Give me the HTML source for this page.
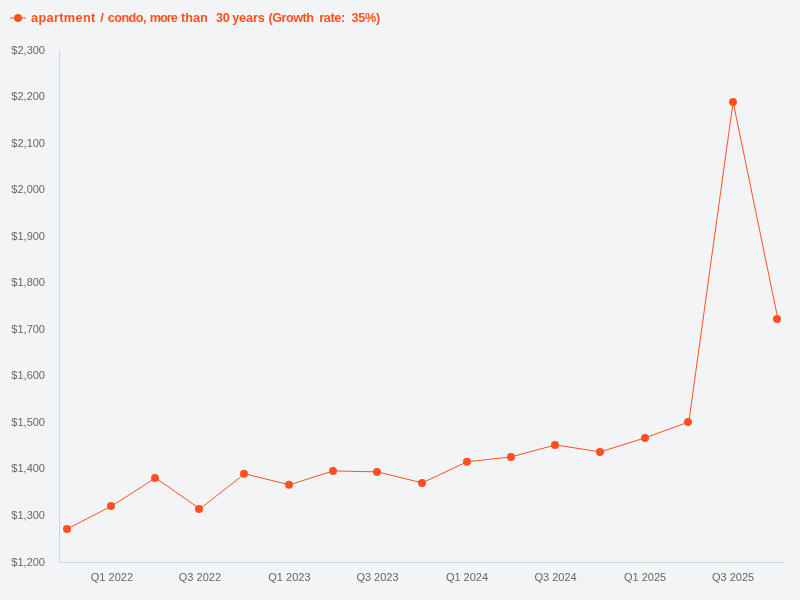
<!DOCTYPE html>
<html lang="en"><head><meta charset="utf-8"><title>Chart</title>
<style>
html,body{margin:0;padding:0;background:#f3f4f6;}
body{width:800px;height:600px;overflow:hidden;font-family:"Liberation Sans",sans-serif;}
svg{display:block}
.ax{font-family:"Liberation Sans",sans-serif;font-size:11px;fill:#666666}
.lg{font-family:"Liberation Sans",sans-serif;font-size:12.7px;font-weight:bold;fill:#fe5020}
</style></head><body>
<svg width="800" height="600" viewBox="0 0 800 600">
<rect x="0" y="0" width="800" height="600" fill="#f3f4f6"/>
<path d="M59.5 50V562" stroke="#ccd6eb" stroke-width="1" fill="none"/>
<path d="M60 562.5H785" stroke="#ccd6eb" stroke-width="1" fill="none"/>
<text class="ax" x="45" y="54.0" text-anchor="end">$2,300</text>
<text class="ax" x="45" y="100.0" text-anchor="end">$2,200</text>
<text class="ax" x="45" y="147.0" text-anchor="end">$2,100</text>
<text class="ax" x="45" y="193.0" text-anchor="end">$2,000</text>
<text class="ax" x="45" y="240.0" text-anchor="end">$1,900</text>
<text class="ax" x="45" y="286.0" text-anchor="end">$1,800</text>
<text class="ax" x="45" y="333.0" text-anchor="end">$1,700</text>
<text class="ax" x="45" y="379.0" text-anchor="end">$1,600</text>
<text class="ax" x="45" y="426.0" text-anchor="end">$1,500</text>
<text class="ax" x="45" y="472.0" text-anchor="end">$1,400</text>
<text class="ax" x="45" y="519.0" text-anchor="end">$1,300</text>
<text class="ax" x="45" y="566.0" text-anchor="end">$1,200</text>
<text class="ax" x="111.9" y="581" text-anchor="middle">Q1 2022</text>
<text class="ax" x="199.9" y="581" text-anchor="middle">Q3 2022</text>
<text class="ax" x="289.4" y="581" text-anchor="middle">Q1 2023</text>
<text class="ax" x="377.5" y="581" text-anchor="middle">Q3 2023</text>
<text class="ax" x="467.0" y="581" text-anchor="middle">Q1 2024</text>
<text class="ax" x="555.6" y="581" text-anchor="middle">Q3 2024</text>
<text class="ax" x="645.1" y="581" text-anchor="middle">Q1 2025</text>
<text class="ax" x="733.1" y="581" text-anchor="middle">Q3 2025</text>
<path d="M67.11 529.00 L111.87 505.90 L155.65 477.90 L199.92 508.90 L244.68 473.80 L289.44 484.80 L333.23 470.90 L377.50 471.90 L422.26 482.90 L467.02 461.80 L511.29 456.90 L555.56 444.90 L600.32 451.90 L645.08 437.90 L688.86 421.90 L733.13 101.90 L777.89 318.90" stroke="#fe5020" stroke-width="1" fill="none" stroke-linejoin="round" stroke-linecap="round"/>
<circle cx="67" cy="529.00" r="4" fill="#fe5020"/>
<circle cx="111" cy="505.90" r="4" fill="#fe5020"/>
<circle cx="155" cy="477.90" r="4" fill="#fe5020"/>
<circle cx="199" cy="508.90" r="4" fill="#fe5020"/>
<circle cx="244" cy="473.80" r="4" fill="#fe5020"/>
<circle cx="289" cy="484.80" r="4" fill="#fe5020"/>
<circle cx="333" cy="470.90" r="4" fill="#fe5020"/>
<circle cx="377" cy="471.90" r="4" fill="#fe5020"/>
<circle cx="422" cy="482.90" r="4" fill="#fe5020"/>
<circle cx="467" cy="461.80" r="4" fill="#fe5020"/>
<circle cx="511" cy="456.90" r="4" fill="#fe5020"/>
<circle cx="555" cy="444.90" r="4" fill="#fe5020"/>
<circle cx="600" cy="451.90" r="4" fill="#fe5020"/>
<circle cx="645" cy="437.90" r="4" fill="#fe5020"/>
<circle cx="688" cy="421.90" r="4" fill="#fe5020"/>
<circle cx="733" cy="101.90" r="4" fill="#fe5020"/>
<circle cx="777" cy="318.90" r="4" fill="#fe5020"/>
<path d="M10 18H26" stroke="#fe5020" stroke-width="1" fill="none"/>
<circle cx="18" cy="18" r="4" fill="#fe5020"/>
<text class="lg" y="22"><tspan x="30.95" textLength="64.35">apartment</tspan> <tspan x="100.30" textLength="5.50">/</tspan> <tspan x="107.70" textLength="38.85">condo,</tspan> <tspan x="149.70" textLength="28.10">more</tspan> <tspan x="180.95" textLength="26.85">than</tspan> <tspan x="215.95" textLength="13.85">30</tspan> <tspan x="232.20" textLength="32.60">years</tspan> <tspan x="268.45" textLength="45.60">(Growth</tspan> <tspan x="319.20" textLength="26.10">rate:</tspan> <tspan x="351.45" textLength="28.85">35%)</tspan></text>
</svg></body></html>
